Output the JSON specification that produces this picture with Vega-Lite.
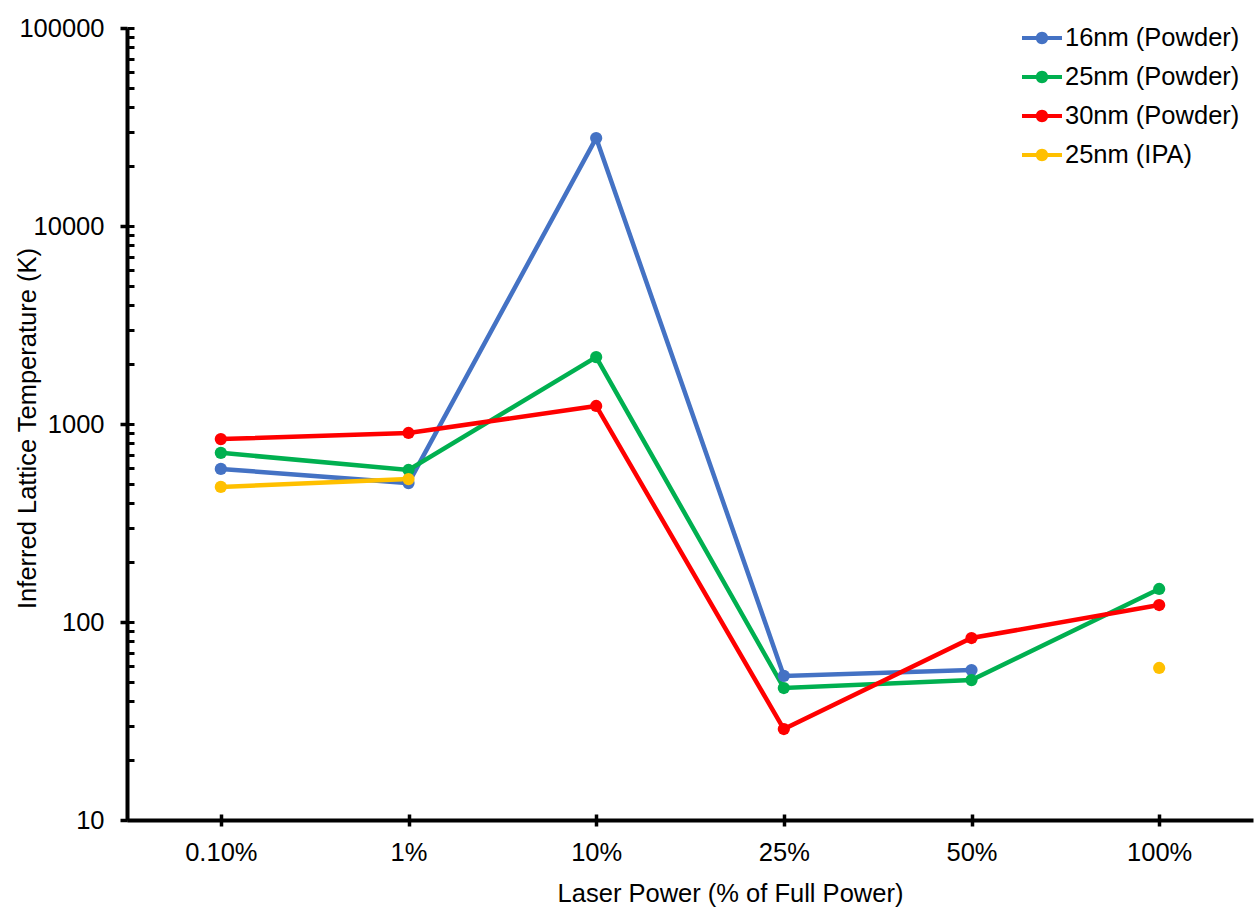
{
  "$schema": "https://vega.github.io/schema/vega-lite/v6.json",
  "width": 1126,
  "height": 792,
  "autosize": {"type": "none"},
  "padding": {"left": 127, "top": 28, "right": 4, "bottom": 90},
  "background": "white",
  "config": {
    "view": {"stroke": null},
    "font": "Liberation Sans",
    "axis": {
      "labelFont": "Liberation Sans",
      "titleFont": "Liberation Sans",
      "labelFontSize": 25.5,
      "titleFontSize": 25.5,
      "labelColor": "#000000",
      "titleColor": "#000000",
      "titleFontWeight": "normal",
      "grid": false,
      "tickColor": "#000000",
      "domainColor": "#000000"
    }
  },
  "data": {
    "values": [
      {"series": "16nm (Powder)", "power": "0.10%", "T": 593},
      {"series": "16nm (Powder)", "power": "1%", "T": 503},
      {"series": "16nm (Powder)", "power": "10%", "T": 27800},
      {"series": "16nm (Powder)", "power": "25%", "T": 53.4},
      {"series": "16nm (Powder)", "power": "50%", "T": 57.2},
      {"series": "16nm (Powder)", "power": "100%", "T": null},
      {"series": "25nm (Powder)", "power": "0.10%", "T": 715},
      {"series": "25nm (Powder)", "power": "1%", "T": 586},
      {"series": "25nm (Powder)", "power": "10%", "T": 2178},
      {"series": "25nm (Powder)", "power": "25%", "T": 46.4},
      {"series": "25nm (Powder)", "power": "50%", "T": 50.9},
      {"series": "25nm (Powder)", "power": "100%", "T": 146.8},
      {"series": "30nm (Powder)", "power": "0.10%", "T": 839},
      {"series": "30nm (Powder)", "power": "1%", "T": 901},
      {"series": "30nm (Powder)", "power": "10%", "T": 1233},
      {"series": "30nm (Powder)", "power": "25%", "T": 28.8},
      {"series": "30nm (Powder)", "power": "50%", "T": 83},
      {"series": "30nm (Powder)", "power": "100%", "T": 121.8},
      {"series": "25nm (IPA)", "power": "0.10%", "T": 481},
      {"series": "25nm (IPA)", "power": "1%", "T": 527},
      {"series": "25nm (IPA)", "power": "10%", "T": null},
      {"series": "25nm (IPA)", "power": "25%", "T": null},
      {"series": "25nm (IPA)", "power": "50%", "T": null},
      {"series": "25nm (IPA)", "power": "100%", "T": 58.6}
    ]
  },
  "encoding": {
    "color": {
      "field": "series",
      "type": "nominal",
      "scale": {
        "domain": ["16nm (Powder)", "25nm (Powder)", "30nm (Powder)", "25nm (IPA)"],
        "range": ["#4472C4", "#00B050", "#FF0000", "#FFC000"]
      },
      "legend": {
        "title": null,
        "orient": "none",
        "legendX": 895,
        "legendY": -10,
        "padding": 0,
        "symbolType": "M-1,-0.1H1V0.1H-1Z M0.31,0A0.31,0.31 0 1,1 -0.31,0A0.31,0.31 0 1,1 0.31,0Z",
        "symbolSize": 1600,
        "symbolStrokeWidth": 0,
        "symbolOpacity": 1,
        "labelFont": "Liberation Sans",
        "labelFontSize": 25.5,
        "labelColor": "#000000",
        "labelOffset": 3,
        "labelLimit": 400,
        "rowPadding": 5,
        "encode": {
          "symbols": {
            "update": {
              "fill": {"scale": "color", "field": "value"},
              "stroke": {"value": "transparent"},
              "opacity": {"value": 1}
            }
          }
        }
      }
    }
  },
  "layer": [
    {
      "mark": {"type": "line", "strokeWidth": 4.5, "invalid": "break-paths-show-domains"},
      "encoding": {
        "x": {
          "field": "power",
          "type": "ordinal",
          "sort": ["0.10%", "1%", "10%", "25%", "50%", "100%"],
          "scale": {"type": "point", "padding": 0.5},
          "axis": {
            "orient": "bottom",
            "labelAngle": 0,
            "tickSize": 6,
            "tickWidth": 3.5,
            "domainWidth": 4,
            "labelPadding": 14,
            "title": "Laser Power (% of Full Power)",
            "titlePadding": 16,
            "titleX": 603
          }
        },
        "y": {
          "field": "T",
          "type": "quantitative",
          "scale": {"type": "log", "domain": [10, 100000], "nice": false},
          "axis": {
            "orient": "left",
            "values": [10, 100, 1000, 10000, 100000],
            "format": "d",
            "tickSize": 7,
            "tickWidth": 3.5,
            "domainWidth": 4,
            "labelPadding": 16,
            "title": "Inferred Lattice Temperature (K)",
            "titleX": -87,
            "titleY": 400
          }
        }
      }
    },
    {
      "mark": {"type": "point", "filled": true, "size": 150, "opacity": 1},
      "encoding": {
        "x": {
          "field": "power",
          "type": "ordinal",
          "sort": ["0.10%", "1%", "10%", "25%", "50%", "100%"],
          "scale": {"type": "point", "padding": 0.5},
          "axis": {
            "orient": "bottom",
            "tickSize": -6,
            "tickWidth": 3.5,
            "labels": false,
            "domain": false,
            "title": null
          }
        },
        "y": {
          "field": "T",
          "type": "quantitative",
          "scale": {"type": "log", "domain": [10, 100000], "nice": false},
          "axis": {
            "orient": "left",
            "values": [10, 20, 30, 40, 50, 60, 70, 80, 90, 100, 200, 300, 400, 500, 600, 700, 800, 900, 1000, 2000, 3000, 4000, 5000, 6000, 7000, 8000, 9000, 10000, 20000, 30000, 40000, 50000, 60000, 70000, 80000, 90000, 100000],
            "tickSize": -7,
            "tickWidth": 3,
            "labels": false,
            "domain": false,
            "title": null
          }
        }
      }
    }
  ],
  "resolve": {"axis": {"x": "independent", "y": "independent"}}
}
